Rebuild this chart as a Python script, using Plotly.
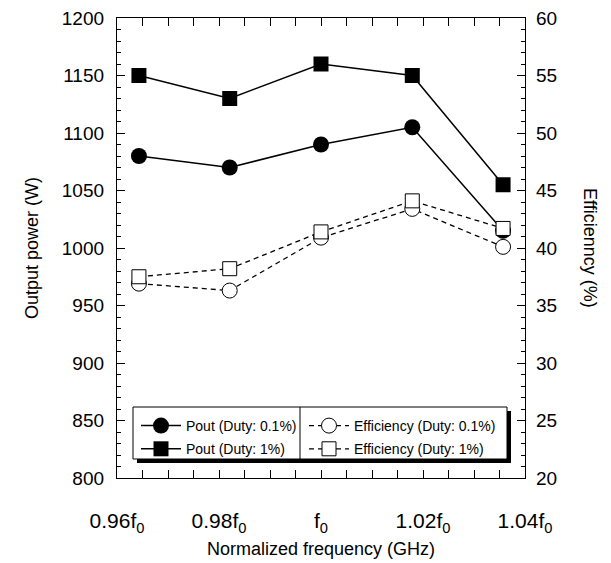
import plotly.graph_objects as go

# ---- data ----
freq = [0.9643, 0.9821, 1.0, 1.0179, 1.0357]          # normalized frequency
tick_vals = [0.96, 0.98, 1.00, 1.02, 1.04]
tick_text = ["0.96f<sub>0</sub>", "0.98f<sub>0</sub>", "f<sub>0</sub>",
             "1.02f<sub>0</sub>", "1.04f<sub>0</sub>"]
pout_01 = [1080, 1070, 1090, 1105, 1015]               # W, duty 0.1%
pout_1 = [1150, 1130, 1160, 1150, 1055]                # W, duty 1%
eff_01 = [36.9, 36.3, 40.9, 43.4, 40.1]                # %, duty 0.1%
eff_1 = [37.5, 38.2, 41.4, 44.1, 41.7]                 # %, duty 1%

FONT = "Liberation Sans, Arial, sans-serif"

fig = go.Figure()
fig.add_trace(go.Scatter(x=freq, y=pout_01, name="Pout (Duty: 0.1%)", mode="lines+markers",
                         line=dict(color="black", width=1.5),
                         marker=dict(symbol="circle", size=16, color="black"),
                         legend="legend", legendgroup="a"))
fig.add_trace(go.Scatter(x=freq, y=pout_1, name="Pout (Duty: 1%)", mode="lines+markers",
                         line=dict(color="black", width=1.5),
                         marker=dict(symbol="square", size=15, color="black"),
                         legend="legend", legendgroup="b"))
fig.add_trace(go.Scatter(x=freq, y=eff_01, name="Efficiency (Duty: 0.1%)", mode="lines+markers",
                         yaxis="y2",
                         line=dict(color="black", width=1.3, dash="5px,4px"),
                         marker=dict(symbol="circle", size=15, color="white",
                                     line=dict(color="black", width=1)),
                         legend="legend2", legendgroup="c"))
fig.add_trace(go.Scatter(x=freq, y=eff_1, name="Efficiency (Duty: 1%)", mode="lines+markers",
                         yaxis="y2",
                         line=dict(color="black", width=1.3, dash="5px,4px"),
                         marker=dict(symbol="square", size=14, color="white",
                                     line=dict(color="black", width=1)),
                         legend="legend2", legendgroup="d"))

# page offset of the rendered figure (body margin of the html page)
OX, OY = 8, 9
# target plot area in window pixels
PL, PR, PT, PB = 117, 525, 19, 479
W, H = 611 - OX, 563 - OY
L, T = PL - OX, PT - OY
R, B = W - (PR - OX), H - (PB - OY)
pw, ph = PR - PL, PB - PT

def px(x):
    return (x - PL) / pw

def py(y):
    return (PB - y) / ph

shapes = [
    dict(type="rect", xref="paper", yref="paper", x0=px(137), x1=px(511), y0=py(464), y1=py(412),
         fillcolor="black", line=dict(width=0), layer="above"),
    dict(type="rect", xref="paper", yref="paper", x0=px(133), x1=px(507), y0=py(460), y1=py(408),
         fillcolor="white", line=dict(color="black", width=1), layer="above"),
    dict(type="line", xref="paper", yref="paper", x0=px(300), x1=px(300), y0=py(460), y1=py(408),
         line=dict(color="black", width=1), layer="above"),
]

axis_common = dict(showline=True, linecolor="black", linewidth=1.3, ticks="inside",
                   ticklen=8, tickwidth=1, tickcolor="black", showgrid=False, zeroline=False,
                   automargin=False, ticklabeloverflow="allow",
                   tickfont=dict(family=FONT, size=19, color="black"))

leg_common = dict(orientation="v", xanchor="left", yanchor="top",
                  bgcolor="rgba(0,0,0,0)", borderwidth=0,
                  font=dict(family=FONT, size=14, color="black"),
                  tracegroupgap=2, itemwidth=40)

fig.update_layout(
    template="none",
    width=W, height=H,
    margin=dict(l=L, r=R, t=T, b=B, pad=0, autoexpand=False),
    plot_bgcolor="white", paper_bgcolor="white",
    font=dict(family=FONT, color="black"),
    showlegend=True,
    legend=dict(x=px(136), y=py(411), **leg_common),
    legend2=dict(x=px(304), y=py(411), **leg_common),
    xaxis=dict(range=[0.96, 1.04], tickvals=tick_vals, ticktext=tick_text,
               mirror="allticks",
               minor=dict(tick0=0.96, dtick=0.005, ticks="inside", ticklen=4,
                          tickcolor="black", tickwidth=1, showgrid=False),
               title=dict(text="Normalized frequency (GHz)",
                          font=dict(family=FONT, size=18, color="black"), standoff=7),
               ticklabelstandoff=24,
               **{**axis_common, "tickfont": dict(family=FONT, size=21, color="black")}),
    yaxis=dict(range=[800, 1200], tick0=800, dtick=50, mirror=False,
               minor=dict(tick0=800, dtick=10, ticks="inside", ticklen=4,
                          tickcolor="black", tickwidth=1, showgrid=False),
               title=dict(text="Output power (W)",
                          font=dict(family=FONT, size=18, color="black"), standoff=18),
               ticklabelstandoff=8,
               **axis_common),
    yaxis2=dict(range=[20, 60], tick0=20, dtick=5, overlaying="y", side="right",
                minor=dict(tick0=20, dtick=1, ticks="inside", ticklen=4,
                           tickcolor="black", tickwidth=1, showgrid=False),
                ticklabelstandoff=6,
                **axis_common),
    shapes=shapes,
    annotations=[dict(text="Efficienncy (%)", textangle=90, xref="paper", yref="paper",
                      x=px(590), y=py(249), xanchor="center", yanchor="middle",
                      showarrow=False, font=dict(family=FONT, size=18, color="black"))],
)

fig.write_html("out.html")
